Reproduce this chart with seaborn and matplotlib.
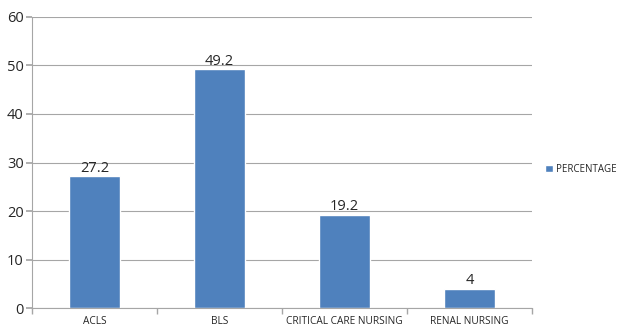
import matplotlib
matplotlib.use("Agg")
import matplotlib.pyplot as plt
import seaborn as sns
import pandas as pd

categories = ["ACLS", "BLS", "CRITICAL CARE NURSING", "RENAL NURSING"]
percentage = [27.2, 49.2, 19.2, 4]
value_labels = ["27.2", "49.2", "19.2", "4"]
series_name = "PERCENTAGE"

df = pd.DataFrame({"cat": categories, "val": percentage, "series": series_name})

sns.set_theme(style="white")
plt.rcParams['font.family'] = ['Open Sans', 'DejaVu Sans']

fig = plt.figure(figsize=(6.17, 3.26), dpi=100)
ax = fig.add_axes([0.052, 0.055, 0.81, 0.893])
color = "#4F81BD"
sns.barplot(data=df, x="cat", y="val", hue="series", palette=[color],
            width=0.41, ax=ax, legend=False, saturation=1)

ax.set_ylim(0, 60)
ax.set_yticks(range(0, 61, 10))
ax.set_xlim(-0.5, 3.5)
ax.yaxis.grid(True, color="#A6A6A6", linewidth=0.8)
ax.set_axisbelow(True)
for s in ["top", "right"]:
    ax.spines[s].set_visible(False)
for s in ["left", "bottom"]:
    ax.spines[s].set_color("#A6A6A6")
    ax.spines[s].set_linewidth(0.8)
ax.set_xlabel("")
ax.set_ylabel("")
ax.tick_params(axis="y", labelsize=10.5, length=4, color="#A6A6A6", left=True, pad=2)
ax.set_xticks(range(len(categories)))
ax.set_xticklabels(categories, fontsize=7.3)
ax.tick_params(axis="x", length=0, pad=6)
# category boundary tick marks
ax.set_xticks([-0.5, 0.5, 1.5, 2.5, 3.5], minor=True)
ax.tick_params(axis="x", which="minor", length=4, color="#A6A6A6", bottom=True)

for p, lab in zip(ax.patches, value_labels):
    ax.text(p.get_x() + p.get_width() / 2, p.get_height() + 0.1, lab,
            ha="center", va="bottom", fontsize=10.5)

from matplotlib.patches import Patch
fig.legend(handles=[Patch(facecolor=color, label=series_name)],
           loc="center left", bbox_to_anchor=(0.884, 0.48), frameon=False,
           borderpad=0, borderaxespad=0,
           fontsize=7, handlelength=0.8, handleheight=0.8, handletextpad=0.25)

fig.savefig("out.png", dpi=100)
